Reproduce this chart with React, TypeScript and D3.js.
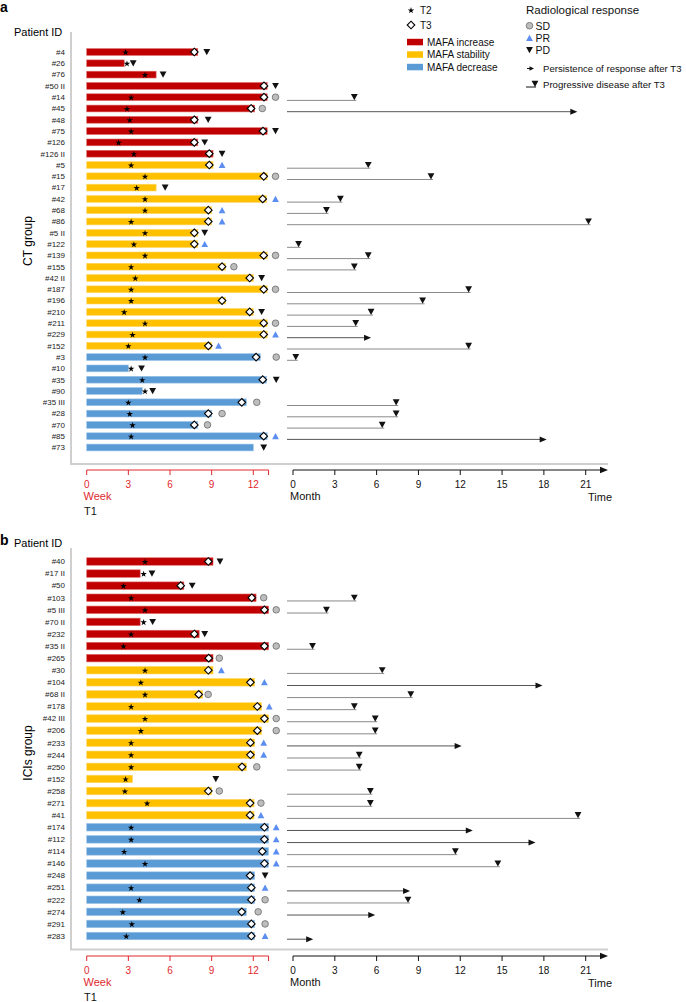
import React from 'react';
import * as d3 from 'd3';

// ---------- Panel a (CT group) ----------
const idsA = ['#4', '#26', '#76', '#50 II', '#14', '#45', '#48', '#75', '#126', '#126 II', '#5', '#15', '#17', '#42', '#68', '#86', '#5 II', '#122', '#139', '#155', '#42 II', '#187', '#196', '#210', '#211', '#229', '#152', '#3', '#10', '#35', '#90', '#35 III', '#28', '#70', '#85', '#73'];
const groupA = ['inc', 'inc', 'inc', 'inc', 'inc', 'inc', 'inc', 'inc', 'inc', 'inc', 'stab', 'stab', 'stab', 'stab', 'stab', 'stab', 'stab', 'stab', 'stab', 'stab', 'stab', 'stab', 'stab', 'stab', 'stab', 'stab', 'stab', 'dec', 'dec', 'dec', 'dec', 'dec', 'dec', 'dec', 'dec', 'dec'];
const endA = [8.0, 2.7, 5.0, 13.0, 13.0, 12.1, 8.0, 13.0, 8.0, 9.1, 9.1, 13.0, 5.0, 12.95, 9.0, 9.0, 8.0, 8.0, 13.0, 10.0, 12.0, 13.0, 10.0, 12.0, 13.0, 13.0, 9.0, 12.5, 3.0, 12.95, 4.0, 11.5, 9.0, 8.0, 13.0, 12.0];
const t2A = [2.8, 2.9, 4.2, null, 3.2, 2.9, 3.1, 3.2, 2.3, 3.4, 3.2, 4.2, 3.6, 4.2, 4.2, 3.2, 4.2, 3.4, 4.2, 3.2, 3.5, 3.2, 3.2, 2.7, 4.2, 3.3, 3.0, 4.2, 3.2, 4.0, 4.2, 3.0, 3.1, 3.3, 3.2, null];
const t3A = [7.75, null, null, 12.77, 12.77, 11.84, 7.75, 12.7, 7.75, 8.83, 8.83, 12.75, null, 12.68, 8.76, 8.76, 7.75, 7.75, 12.75, 9.75, 11.74, 12.75, 9.75, 11.74, 12.75, 12.75, 8.76, 12.2, null, 12.68, null, 11.17, 8.76, 7.75, 12.75, null];
const respA = ['PD', 'PD', 'PD', 'PD', 'SD', 'SD', 'PD', 'PD', 'PD', 'PD', 'PR', 'SD', 'PD', 'PR', 'PR', 'PR', 'PD', 'PR', 'SD', 'SD', 'PD', 'SD', null, 'PD', 'SD', 'PR', 'PR', 'SD', 'PD', 'PD', 'PD', 'SD', 'SD', 'SD', 'PR', 'PD'];
const respWkA = [8.65, 3.35, 5.5, 13.6, 13.6, 12.65, 8.75, 13.6, 8.5, 9.75, 9.75, 13.6, 5.65, 13.6, 9.75, 9.75, 8.5, 8.5, 13.6, 10.6, 12.6, 13.6, null, 12.6, 13.6, 13.6, 9.5, 13.65, 3.95, 13.65, 4.75, 12.25, 9.75, 8.7, 13.6, 12.75];
const followIdA = ['#14', '#45', '#5', '#15', '#42', '#68', '#86', '#122', '#139', '#155', '#187', '#196', '#210', '#211', '#229', '#152', '#3', '#35 III', '#28', '#70', '#85'];
const followMoA = [4.4, 20.4, 5.4, 9.9, 3.4, 2.4, 21.2, 0.4, 5.4, 4.4, 12.6, 9.3, 5.6, 4.5, 5.6, 12.6, 0.2, 7.4, 7.4, 6.4, 18.2];
const followTypeA = ['PD', 'arrow', 'PD', 'PD', 'PD', 'PD', 'PD', 'PD', 'PD', 'PD', 'PD', 'PD', 'PD', 'PD', 'arrow', 'PD', 'PD', 'PD', 'PD', 'PD', 'arrow'];

// ---------- Panel b (ICIs group) ----------
const idsB = ['#40', '#17 II', '#50', '#103', '#5 III', '#70 II', '#232', '#35 II', '#265', '#30', '#104', '#68 II', '#178', '#42 III', '#206', '#233', '#244', '#250', '#152', '#258', '#271', '#41', '#174', '#112', '#114', '#146', '#248', '#251', '#222', '#274', '#291', '#283'];
const groupB = ['inc', 'inc', 'inc', 'inc', 'inc', 'inc', 'inc', 'inc', 'inc', 'stab', 'stab', 'stab', 'stab', 'stab', 'stab', 'stab', 'stab', 'stab', 'stab', 'stab', 'stab', 'stab', 'dec', 'dec', 'dec', 'dec', 'dec', 'dec', 'dec', 'dec', 'dec', 'dec'];
const endB = [9.1, 3.85, 7.0, 12.2, 13.1, 3.85, 8.1, 13.1, 9.1, 9.1, 12.1, 8.35, 12.6, 13.1, 12.6, 12.1, 12.1, 11.5, 3.3, 9.0, 12.05, 12.05, 13.1, 13.1, 13.1, 13.1, 12.1, 12.1, 12.1, 11.5, 12.1, 12.1];
const t2B = [4.2, 4.1, 2.65, 3.2, 4.2, 4.1, 3.2, 2.65, null, 4.2, 3.9, 4.2, 3.2, 4.2, 3.9, 3.2, 3.2, 3.2, 2.8, 2.75, 4.35, null, 3.2, 3.2, 2.7, 4.2, null, 3.2, 3.8, 2.6, 3.25, 2.85];
const t3B = [8.76, null, 6.77, 11.89, 12.8, null, 7.75, 12.8, 8.79, 8.76, 11.79, 8.07, 12.29, 12.8, 12.29, 11.79, 11.79, 11.19, null, 8.76, 11.77, 11.77, 12.8, 12.8, 12.65, 12.8, 11.77, 11.86, 11.86, 11.17, 11.86, 11.86];
const respB = ['PD', 'PD', 'PD', 'SD', 'SD', 'PD', 'PD', 'SD', 'SD', 'PR', 'PR', 'SD', 'PR', 'SD', 'SD', 'PR', 'PR', 'SD', 'PD', 'SD', 'SD', 'PR', 'PR', 'PR', 'PR', 'PR', 'PD', 'PR', 'SD', 'SD', 'SD', 'PR'];
const respWkB = [9.6, 4.7, 7.6, 12.75, 13.65, 4.75, 8.5, 13.65, 9.55, 9.7, 12.8, 8.75, 13.15, 13.65, 13.65, 12.75, 12.75, 12.25, 9.3, 9.55, 12.55, 12.55, 13.65, 13.65, 13.65, 13.65, 12.85, 12.85, 12.85, 12.35, 12.85, 12.85];
const followIdB = ['#103', '#5 III', '#35 II', '#30', '#104', '#68 II', '#178', '#42 III', '#206', '#233', '#244', '#250', '#258', '#271', '#41', '#174', '#112', '#114', '#146', '#251', '#222', '#274', '#283'];
const followMoB = [4.4, 2.4, 1.4, 6.4, 17.9, 8.45, 4.4, 5.9, 5.9, 12.1, 4.75, 4.75, 5.55, 5.55, 20.45, 12.9, 17.4, 11.65, 14.7, 8.4, 8.25, 5.9, 1.45];
const followTypeB = ['PD', 'PD', 'PD', 'PD', 'arrow', 'PD', 'PD', 'PD', 'PD', 'arrow', 'PD', 'PD', 'PD', 'PD', 'PD', 'arrow', 'arrow', 'PD', 'PD', 'arrow', 'PD', 'arrow', 'arrow'];

// ---------- Axes ----------
const weekTicks = [0, 3, 6, 9, 12];
const weekEnd = 13.1;
const monthTicks = [0, 3, 6, 9, 12, 15, 18, 21];

const COLORS: Record<string, string> = { inc: '#C00000', stab: '#FFC000', dec: '#5B9BD5' };
const EDGE: Record<string, string> = { inc: '#e06a6a', stab: '#ffd766', dec: '#9cc3e8' };
const AXIS_RED = '#e0282e';
const FONT = "'Liberation Sans', Arial, Helvetica, sans-serif";

const xW = d3.scaleLinear().domain([0, 12]).range([86.7, 253.3]);
const xM = d3.scaleLinear().domain([0, 21]).range([293, 585.7]);

const starPath = d3.symbol().type(d3.symbolStar).size(13)() as string;
const diamondPath = 'M0,-3.8L3.8,0L0,3.8L-3.8,0Z';
const downTri = 'M-3.4,-3L3.4,-3L0,3.2Z';
const upTri = 'M-3.4,3L3.4,3L0,-3.2Z';

function RespMark({ type, x, y }: { type: string; x: number; y: number }) {
  if (type === 'SD') return <circle cx={x} cy={y} r={3.3} fill="#bdbdbd" stroke="#6a6a6a" strokeWidth={0.8} />;
  if (type === 'PR') return <path d={upTri} transform={`translate(${x},${y})`} fill="#5B8EF0" />;
  return <path d={downTri} transform={`translate(${x},${y})`} fill="#111" />;
}

type PanelProps = {
  ids: string[]; group: string[]; end: number[]; t2: (number | null)[]; t3: (number | null)[];
  resp: (string | null)[]; respWk: (number | null)[];
  fIds: string[]; fMo: number[]; fType: string[];
  rowRange: [number, number]; frameTop: number; frameBottom: number; axisY: number;
  letter: string; letterY: number; pidY: number; groupLabel: string; groupLabelY: number; barH: number;
};

function Panel(p: PanelProps) {
  const y = d3.scalePoint<string>().domain(p.ids).range(p.rowRange);
  const frameRight = 608;
  return (
    <g>
      <text x={0} y={p.letterY} fontSize={14} fontWeight="bold" fontFamily={FONT}>{p.letter}</text>
      <text x={14} y={p.pidY} fontSize={11} fontFamily={FONT}>Patient ID</text>
      <text transform={`translate(32,${p.groupLabelY}) rotate(-90)`} textAnchor="middle" fontSize={12} fontFamily={FONT}>{p.groupLabel}</text>
      {/* frame */}
      <path d={`M71,${p.frameTop}V${p.frameBottom}H${frameRight}`} fill="none" stroke="#cfcfcf" strokeWidth={2} />
      {/* rows */}
      {p.ids.map((id, i) => {
        const cy = y(id) as number;
        const g = p.group[i];
        const t2 = p.t2[i];
        const t3 = p.t3[i];
        const r = p.resp[i];
        const rw = p.respWk[i];
        return (
          <g key={id + i}>
            <text x={65} y={cy + 2.8} textAnchor="end" fontSize={8} fontFamily={FONT} fill="#222">{id}</text>
            <rect x={xW(0)} y={cy - p.barH / 2} width={xW(p.end[i]) - xW(0)} height={p.barH} fill={COLORS[g]} stroke={EDGE[g]} strokeWidth={0.6} />
            {t2 != null && <path d={starPath} transform={`translate(${xW(t2)},${cy + 0.5})`} fill="#000" />}
            {t3 != null && <path d={diamondPath} transform={`translate(${xW(t3)},${cy})`} fill="#fff" stroke="#000" strokeWidth={1.1} />}
            {r != null && rw != null && <RespMark type={r} x={xW(rw)} y={cy} />}
          </g>
        );
      })}
      {/* follow-up after T3 */}
      {p.fIds.map((id, i) => {
        const cy = y(id) as number;
        const ly = cy + 3.2;
        const x0 = xM(0) - 6;
        const x1 = xM(p.fMo[i]);
        if (p.fType[i] === 'arrow') {
          return (
            <g key={'f' + id}>
              <line x1={x0} x2={x1 - 5} y1={ly} y2={ly} stroke="#555" strokeWidth={1} />
              <path d={`M${x1},${ly}L${x1 - 7},${ly - 3}L${x1 - 7},${ly + 3}Z`} fill="#111" />
            </g>
          );
        }
        return (
          <g key={'f' + id}>
            <line x1={x0} x2={x1 + 2} y1={ly} y2={ly} stroke="#8a8a8a" strokeWidth={1} />
            <path d={downTri} transform={`translate(${x1},${cy - 0.1})`} fill="#111" />
          </g>
        );
      })}
      {/* week axis */}
      <g>
        <line x1={xW(0)} x2={xW(weekEnd)} y1={p.axisY} y2={p.axisY} stroke={AXIS_RED} strokeWidth={1} />
        {weekTicks.map((t) => (
          <g key={'w' + t}>
            <line x1={xW(t)} x2={xW(t)} y1={p.axisY} y2={p.axisY + 5} stroke={AXIS_RED} strokeWidth={1} />
            <text x={xW(t)} y={p.axisY + 17.5} textAnchor="middle" fontSize={10} fontFamily={FONT} fill={AXIS_RED}>{t}</text>
          </g>
        ))}
        <line x1={xW(weekEnd)} x2={xW(weekEnd)} y1={p.axisY} y2={p.axisY + 5} stroke={AXIS_RED} strokeWidth={1} />
        <text x={83.5} y={p.axisY + 30} fontSize={11} fontFamily={FONT} fill={AXIS_RED}>Week</text>
        <text x={84} y={p.axisY + 45} fontSize={11} fontFamily={FONT} fill="#111">T1</text>
      </g>
      {/* month axis */}
      <g>
        <line x1={xM(0)} x2={frameRight - 5} y1={p.axisY} y2={p.axisY} stroke="#111" strokeWidth={1} />
        <path d={`M${frameRight},${p.axisY}L${frameRight - 8},${p.axisY - 3.2}L${frameRight - 8},${p.axisY + 3.2}Z`} fill="#111" />
        {monthTicks.map((t) => (
          <g key={'m' + t}>
            <line x1={xM(t)} x2={xM(t)} y1={p.axisY} y2={p.axisY + 5} stroke="#111" strokeWidth={1} />
            <text x={xM(t)} y={p.axisY + 17.5} textAnchor="middle" fontSize={10} fontFamily={FONT} fill="#111">{t}</text>
          </g>
        ))}
        <text x={290} y={p.axisY + 30} fontSize={11} fontFamily={FONT} fill="#111">Month</text>
        <text x={588} y={p.axisY + 30.5} fontSize={11} fontFamily={FONT} fill="#111">Time</text>
      </g>
    </g>
  );
}

const legendBars = [
  { key: 'inc', label: 'MAFA increase' },
  { key: 'stab', label: 'MAFA stability' },
  { key: 'dec', label: 'MAFA decrease' },
];
const legendResp = ['SD', 'PR', 'PD'];

function Legend() {
  return (
    <g fontFamily={FONT} fontSize={10} fill="#111">
      <path d={starPath} transform="translate(411,10.5)" fill="#000" />
      <text x={420} y={13.5}>T2</text>
      <path d={diamondPath} transform="translate(411,25)" fill="#fff" stroke="#000" strokeWidth={1.1} />
      <text x={420} y={28.5}>T3</text>
      {legendBars.map((b, i) => (
        <g key={b.key}>
          <rect x={407} y={38.8 + i * 12.5} width={16} height={6.5} fill={COLORS[b.key]} />
          <text x={427} y={45.5 + i * 12.5}>{b.label}</text>
        </g>
      ))}
      <text x={526} y={13.5} fontSize={11.5}>Radiological response</text>
      {legendResp.map((r, i) => (
        <g key={r}>
          <RespMark type={r} x={529.5} y={25.7 + i * 12.2} />
          <text x={535.5} y={29.5 + i * 12.2} fontSize={10.5}>{r}</text>
        </g>
      ))}
      <line x1={527} x2={531} y1={68.5} y2={68.5} stroke="#111" strokeWidth={1} />
      <path d="M534,68.5L529.5,66.3L529.5,70.7Z" fill="#111" />
      <text x={543} y={72} fontSize={9.6}>Persistence of response after T3</text>
      <line x1={526} x2={536} y1={87} y2={87} stroke="#111" strokeWidth={1} />
      <path d={downTri} transform="translate(535,83.8)" fill="#111" />
      <text x={543} y={88} fontSize={9.6}>Progressive disease after T3</text>
    </g>
  );
}

export default function App() {
  return (
    <svg width={686} height={1002} style={{ position: 'absolute', left: 0, top: 0, background: '#fff' }}>
      <Panel ids={idsA} group={groupA} end={endA} t2={t2A} t3={t3A} resp={respA} respWk={respWkA}
        fIds={followIdA} fMo={followMoA} fType={followTypeA}
        rowRange={[52, 447.5]} frameTop={32} frameBottom={464} axisY={470}
        letter="a" letterY={12} pidY={35.5} groupLabel="CT group" groupLabelY={241} barH={6.8} />
      <Panel ids={idsB} group={groupB} end={endB} t2={t2B} t3={t3B} resp={respB} respWk={respWkB}
        fIds={followIdB} fMo={followMoB} fType={followTypeB}
        rowRange={[561.5, 936]} frameTop={548} frameBottom={949.5} axisY={956}
        letter="b" letterY={545} pidY={547} groupLabel="ICIs group" groupLabelY={753} barH={7.5} />
      <Legend />
    </svg>
  );
}
